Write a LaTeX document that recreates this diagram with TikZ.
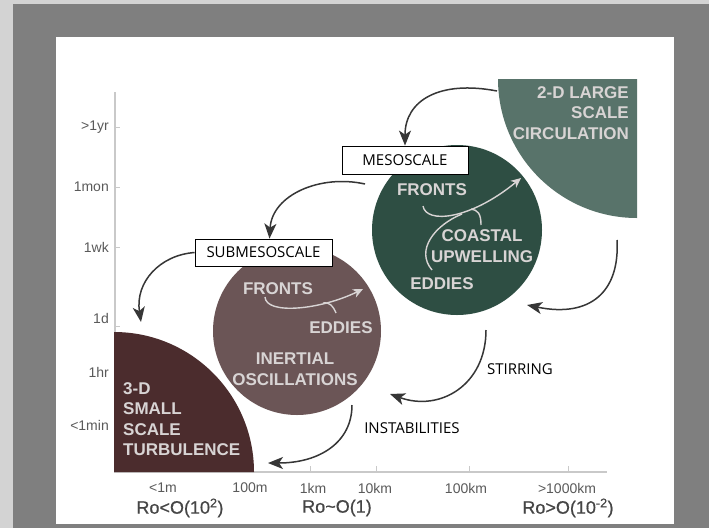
\documentclass[tikz,border=0pt]{standalone}
\usepackage{fontspec}
\setmainfont{Liberation Sans}
\newfontfamily\boxfont{Open Sans}
\newfontfamily\rofont[UprightFeatures={FakeBold=0.6}]{Liberation Sans}
\usetikzlibrary{arrows.meta}

\definecolor{bgout}{HTML}{D3D3D3}
\definecolor{bgframe}{HTML}{7F7F7F}
\definecolor{axisgrey}{HTML}{C9C9C9}
\definecolor{labgrey}{HTML}{5A5A5A}
\definecolor{rogrey}{HTML}{454545}
\definecolor{turbcol}{HTML}{4B2C2D}
\definecolor{subcol}{HTML}{6B5556}
\definecolor{mesocol}{HTML}{2E4E43}
\definecolor{largecol}{HTML}{58736A}
\definecolor{inktext}{HTML}{D8D4D4}
\definecolor{arrowcol}{HTML}{363636}

\tikzset{
  scalelab/.style={text=inktext, font=\bfseries\fontsize{17}{20.5}\selectfont, inner sep=0pt},
  axislab/.style={text=labgrey, font=\fontsize{14}{16}\selectfont, inner sep=0pt},
  rolab/.style={text=rogrey, font=\rofont\fontsize{18}{20}\selectfont, inner sep=0pt},
  boxlab/.style={draw=black, fill=white, line width=0.8pt, font=\boxfont\fontsize{15}{17}\selectfont, inner sep=0pt},
  proclab/.style={font=\boxfont\fontsize{15}{17}\selectfont, inner sep=0pt},
  flowarrow/.style={draw=arrowcol, line width=1.5pt, -{Stealth[length=15pt,width=12pt,inset=4pt]}},
  innerarrow/.style={draw=inktext, line width=1.4pt, -{Stealth[length=10pt,width=9pt,inset=3pt]}},
  innerline/.style={draw=inktext, line width=1.4pt},
}

\begin{document}
\begin{tikzpicture}[x=1pt,y=-1pt]
\useasboundingbox (0,0) rectangle (709,528);

% frame
\fill[bgout] (0,0) rectangle (709,528);
\fill[bgframe] (13,4) rectangle (709,528);
\fill[white] (56,37) rectangle (674,524);

% axes
\draw[axisgrey, line width=1.2pt] (115,92) -- (115,472) -- (607,472);
\foreach \ty in {127,187,247,326}
  \draw[axisgrey, line width=1pt] (115,\ty) -- (120,\ty);
\foreach \tx in {175,213,310,376,469,568}
  \draw[axisgrey, line width=1pt] (\tx,472) -- (\tx,466);

\node[axislab, anchor=east] (tyr)  at (109,127) {>1yr};
\node[axislab, anchor=east] (tmon) at (109,187) {1mon};
\node[axislab, anchor=east] (twk)  at (109,247) {1wk};
\node[axislab, anchor=east] (tday) at (109,318) {1d};
\node[axislab, anchor=east] (thr)  at (109,372) {1hr};
\node[axislab, anchor=east] (tmin) at (109,425) {<1min};

\node[axislab] (xm)    at (163,488) {<1m};
\node[axislab] (xhm)   at (250,488) {100m};
\node[axislab] (xkm)   at (313,488) {1km};
\node[axislab] (xtkm)  at (375,488) {10km};
\node[axislab] (xhkm)  at (466,488) {100km};
\node[axislab] (xthkm) at (567,488) {>1000km};

\node[rolab] (rosmall) at (180,508) {Ro<O(10\textsuperscript{2})};
\node[rolab] (romid)   at (337,508) {Ro\textasciitilde O(1)};
\node[rolab] (rolarge) at (568,508) {Ro>O(10\textsuperscript{-2})};

% scale regions
\fill[turbcol] (114,472) -- (114,332) arc[start angle=-90, end angle=0, radius=140] -- cycle;
\fill[largecol] (637,79) -- (498,79) arc[start angle=180, end angle=90, radius=139] -- cycle;
\node[circle, fill=subcol, minimum size=168pt, inner sep=0pt] (subdisc) at (297,331) {};
\node[circle, fill=mesocol, minimum size=170pt, inner sep=0pt] (mesodisc) at (457,230) {};

% region texts
\node[scalelab, anchor=west, align=left] (turbtext) at (123,419) {3-D\\SMALL\\SCALE\\TURBULENCE};
\node[scalelab, anchor=east, align=right] (largetext) at (629,113) {2-D LARGE\\SCALE\\CIRCULATION};

\node[scalelab] (mfronts)  at (432,190) {FRONTS};
\node[scalelab, align=center] (mcoast) at (482,246) {COASTAL\\UPWELLING};
\node[scalelab] (meddies)  at (442,284) {EDDIES};

\node[scalelab] (sfronts)  at (278,289) {FRONTS};
\node[scalelab] (seddies)  at (341,328) {EDDIES};
\node[scalelab, align=center] (sinert) at (295,369) {INERTIAL\\OSCILLATIONS};

% inner arrows, mesoscale
\coordinate (mstart) at (423,206);
\coordinate (mtip) at (521,178);
\coordinate (mjoin) at (462,214);
\coordinate (cjoin) at (471,209);
\draw[innerarrow] (mstart) .. controls (426,224) and (470,220) .. (mtip);
\draw[innerline] (432,270) .. controls (415,250) and (435,225) .. (mjoin);
\draw[innerline] (481,225) .. controls (481,214) and (478,210) .. (cjoin);

% inner arrows, submesoscale
\coordinate (sstart) at (265,297);
\coordinate (stip) at (363,289);
\coordinate (sjoin) at (323,303);
\draw[innerarrow] (sstart) .. controls (266,315) and (320,310) .. (stip);
\draw[innerline] (336,313) .. controls (333,306) and (330,302) .. (sjoin);

% labels in boxes
\node[boxlab, minimum width=126pt, minimum height=28pt] (mesobox) at (405,160) {MESOSCALE};
\node[boxlab, minimum width=137pt, minimum height=27pt] (subbox) at (263.5,252.5) {SUBMESOSCALE};

% cascade arrows
\coordinate (largeedge) at (497,91);
\coordinate (mesoleft) at (365,184);
\coordinate (turbtop) at (141,322);
\coordinate (subbottom) at (352,405);
\coordinate (turbedge) at (268,463);
\coordinate (mesobottom) at (486,330);
\coordinate (instab) at (390,394);
\coordinate (largebottom) at (617,240);
\coordinate (mesoright) at (527,305);

\draw[flowarrow] (largeedge) .. controls (440,80) and (405,100) .. (mesobox.north);
\draw[flowarrow] (mesoleft) .. controls (320,174) and (272,195) .. ([xshift=6pt]subbox.north);
\draw[flowarrow] (subbox.west) .. controls (160,255) and (135,282) .. (turbtop);
\draw[flowarrow] (subbottom) .. controls (352,442) and (320,463) .. (turbedge);
\draw[flowarrow] (mesobottom) .. controls (486,385) and (440,412) .. (instab);
\draw[flowarrow] (largebottom) .. controls (620,292) and (590,318) .. (mesoright);

\node[proclab] (stir) at (520,369) {STIRRING};
\node[proclab] (inst) at (412,428) {INSTABILITIES};
\end{tikzpicture}
\end{document}
